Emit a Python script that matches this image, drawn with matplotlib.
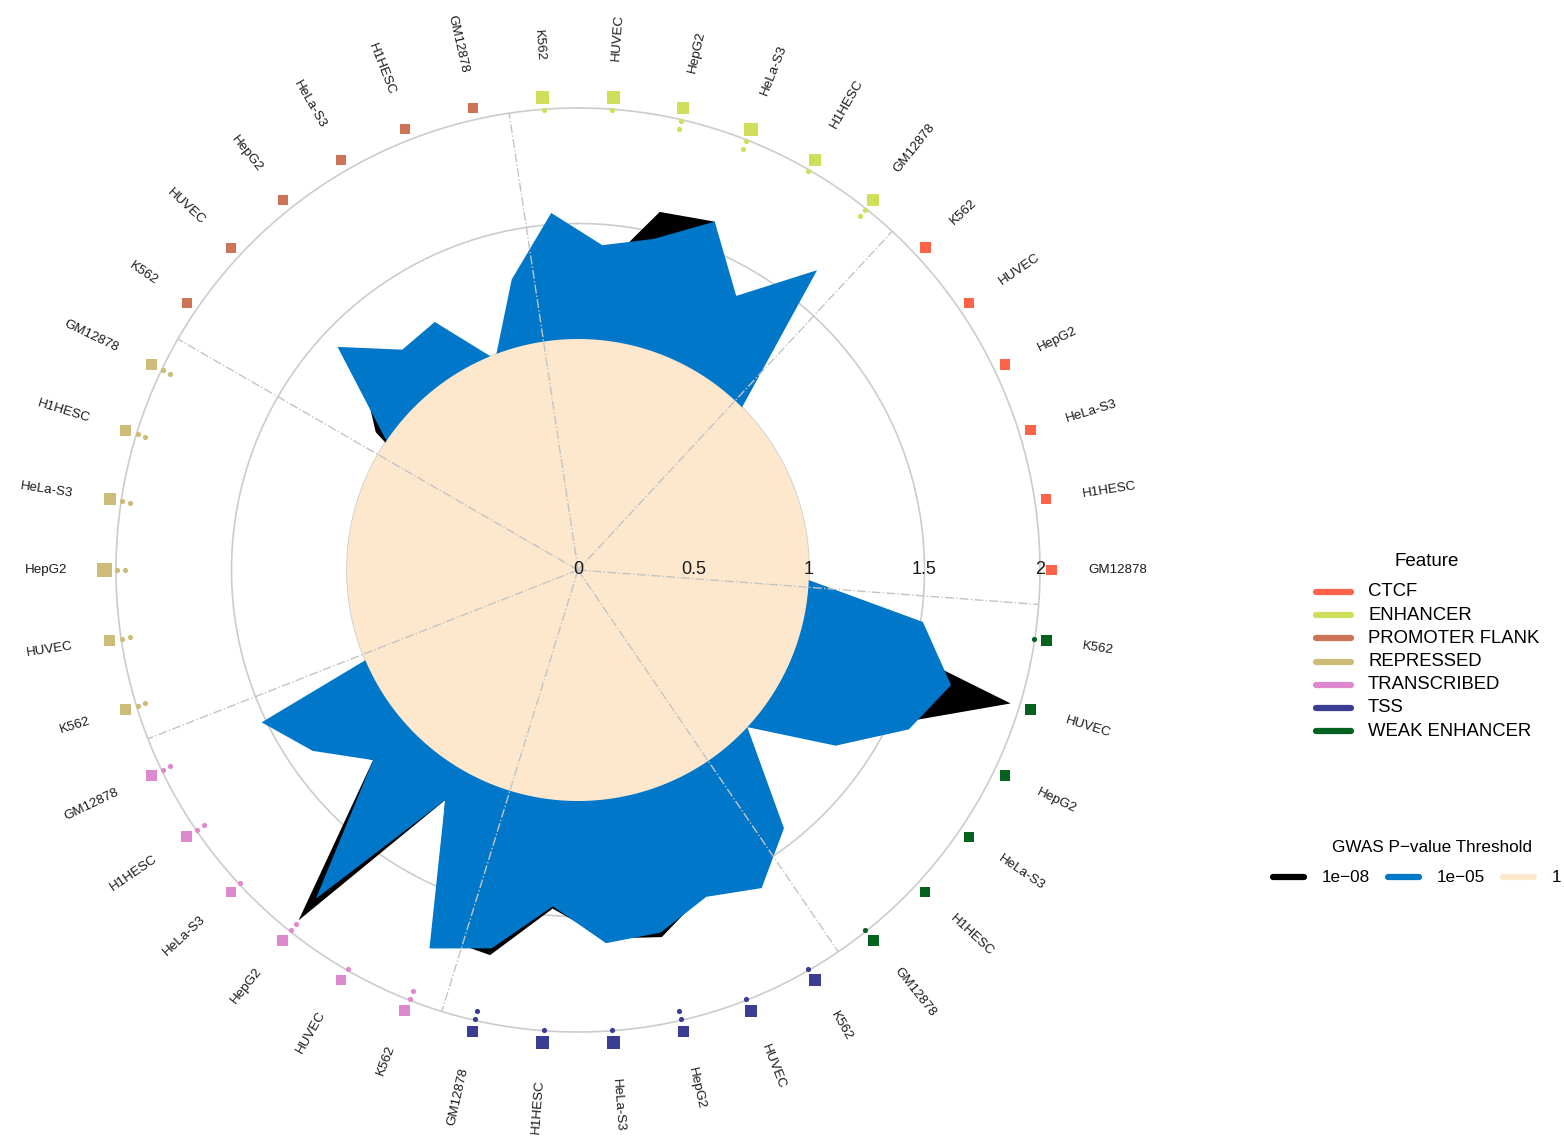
import numpy as np
import matplotlib.pyplot as plt
from matplotlib.lines import Line2D

plt.rcParams['font.family'] = ['Liberation Sans', 'DejaVu Sans']

# ---- data -------------------------------------------------------------
cells = ['K562', 'HUVEC', 'HepG2', 'HeLa-S3', 'H1HESC', 'GM12878']
# features in the order they go round the circle (clockwise from top)
features = ['ENHANCER', 'CTCF', 'WEAK ENHANCER', 'TSS', 'TRANSCRIBED',
            'REPRESSED', 'PROMOTER FLANK']

# enrichment per feature x cell, GWAS p < 1e-05
enrich_1e05 = [
    [1.55, 1.41, 1.47, 1.62, 1.37, 1.66],   # ENHANCER
    [0.90, 0.85, 0.80, 0.85, 0.82, 0.88],   # CTCF
    [1.51, 1.69, 1.59, 1.35, 1.00, 1.43],   # WEAK ENHANCER
    [1.59, 1.52, 1.61, 1.62, 1.46, 1.68],   # TSS
    [1.76, 1.15, 1.82, 1.21, 1.39, 1.52],   # TRANSCRIBED
    [0.58, 0.60, 0.65, 0.60, 0.62, 0.70],   # REPRESSED
    [1.01, 1.42, 1.22, 1.24, 0.98, 1.29],   # PROMOTER FLANK
]
# enrichment per feature x cell, GWAS p < 1e-08
enrich_1e08 = [
    [1.50, 1.30, 1.59, 1.62, 1.30, 1.60],
    [0.85, 0.80, 0.75, 0.80, 0.78, 0.85],
    [1.03, 1.96, 1.53, 1.30, 0.95, 1.38],
    [1.55, 1.50, 1.63, 1.60, 1.47, 1.71],
    [1.70, 1.15, 1.94, 1.21, 1.35, 1.48],
    [0.55, 0.55, 0.60, 0.55, 0.58, 0.65],
    [1.06, 1.28, 1.20, 1.20, 0.95, 1.25],
]
# baseline (p < 1)
baseline = 1.0

# number of significant thresholds per cell (small dots)
n_signif = [
    [1, 1, 2, 2, 1, 2],
    [0, 0, 0, 0, 0, 0],
    [1, 0, 0, 0, 0, 1],
    [1, 1, 2, 1, 1, 2],
    [2, 1, 2, 1, 2, 2],
    [2, 2, 2, 2, 2, 2],
    [0, 0, 0, 0, 0, 0],
]
# relative weight of each cell (square size)
weight = [
    [1.20, 1.20, 1.10, 1.20, 1.10, 1.10],
    [1.00, 0.92, 0.92, 0.92, 0.92, 0.92],
    [1.00, 1.00, 0.92, 0.92, 0.92, 1.00],
    [1.10, 1.10, 1.00, 1.20, 1.20, 1.00],
    [1.00, 0.92, 1.00, 0.92, 1.00, 1.00],
    [1.00, 1.00, 1.30, 1.10, 1.00, 1.00],
    [0.92, 0.92, 0.92, 0.92, 0.92, 0.92],
]

feature_colors = {
    'CTCF': '#FF6347',
    'ENHANCER': '#CFDF5C',
    'PROMOTER FLANK': '#CD7356',
    'REPRESSED': '#CDBB78',
    'TRANSCRIBED': '#DD88CF',
    'TSS': '#3A3D92',
    'WEAK ENHANCER': '#03631E',
}
thr_labels = ['1e\u221208', '1e\u221205', '1']
thr_colors = ['#000000', '#0077C8', '#FDE8CE']

# ---- layout -------------------------------------------------------------
W, H = 1564, 1143
fig = plt.figure(figsize=(W / 100, H / 100), dpi=100)
fig.patch.set_facecolor('white')

cx, cy, rmax, unit = 578, 570, 2.45, 231
rad_px = rmax * unit
ax = fig.add_axes([(cx - rad_px) / W, (H - cy - rad_px) / H,
                   2 * rad_px / W, 2 * rad_px / H], projection='polar')
ax.set_theta_zero_location('N')
ax.set_theta_direction(-1)
ax.set_ylim(0, rmax)
ax.set_xticks([])
ax.set_yticks([])
ax.grid(False)
ax.spines['polar'].set_visible(False)

n = len(features) * len(cells)
theta = 2 * np.pi * (np.arange(n) - 0.5) / n
v05 = np.ravel(enrich_1e05)
v08 = np.ravel(enrich_1e08)
col = np.repeat([feature_colors[f] for f in features], len(cells))

# grid circles
circ = np.linspace(0, 2 * np.pi, 400)
for r in [0.5, 1.0, 1.5, 2.0]:
    ax.plot(circ, np.full_like(circ, r), color='#CCCCCC', lw=1.2, zorder=1)

# threshold polygons
ax.fill(np.r_[theta, theta[0]], np.r_[v08, v08[0]], color=thr_colors[0], lw=0, zorder=2)
ax.fill(np.r_[theta, theta[0]], np.r_[v05, v05[0]], color=thr_colors[1], lw=0, zorder=3)
ax.fill(circ, np.full_like(circ, baseline), color=thr_colors[2], lw=0, zorder=4)

# feature separators
for k in range(len(features)):
    t = 2 * np.pi * (k * len(cells) - 1) / n
    ax.plot([t, t], [0, 2.0], color='#C4C4C4', lw=1.0, ls='-.', zorder=5)

# radial scale
for r in [0, 0.5, 1, 1.5, 2]:
    ax.text(np.pi / 2, r, '%g' % r, ha='center', va='center', fontsize=13,
            color='#1A1A1A', zorder=7)

# squares and significance dots
sizes = (np.ravel(weight) * 11 * 0.72) ** 2
ax.scatter(theta, np.full(n, 2.05), marker='s', s=sizes, c=col, lw=0, zorder=6, clip_on=False)
ns = np.ravel(n_signif)
for i in range(n):
    for j, r in enumerate([1.995, 1.96][:ns[i]]):
        ax.scatter(theta[i], r, s=14, color=col[i], lw=0, zorder=6)

# cell-line labels
labels = cells * len(features)
for i in range(n):
    a = (90 - np.degrees(theta[i]) + 180) % 360 - 180
    if -90 < a < 90:
        rot, ha = a, 'left'
    else:
        rot, ha = a - 180, 'right'
    ax.text(theta[i], 2.21, labels[i], rotation=rot, rotation_mode='anchor',
            ha=ha, va='center', fontsize=9.6, color='#1A1A1A')

# ---- legends --------------------------------------------------------------
def fx(x):
    return x / W


def fy(y):
    return 1 - y / H


fig.text(fx(1427), fy(562), 'Feature', ha='center', va='center', fontsize=13.5)
for k, f in enumerate(sorted(feature_colors)):
    y = 592 + 23.2 * k
    fig.add_artist(Line2D([fx(1316), fx(1351)], [fy(y), fy(y)], lw=4.5,
                          color=feature_colors[f], solid_capstyle='round'))
    fig.text(fx(1368), fy(y), f, ha='left', va='center', fontsize=13.3)

fig.text(fx(1432), fy(848), 'GWAS P\u2212value Threshold', ha='center', va='center', fontsize=12.3)
for k, (lab, c) in enumerate(zip(thr_labels, thr_colors)):
    x0 = 1270 + 115 * k
    fig.add_artist(Line2D([fx(x0 + 3), fx(x0 + 34)], [fy(877), fy(877)], lw=4.5,
                          color=c, solid_capstyle='round'))
    fig.text(fx(x0 + 52), fy(877), lab, ha='left', va='center', fontsize=12.3)

fig.savefig('out.png', dpi=100)
